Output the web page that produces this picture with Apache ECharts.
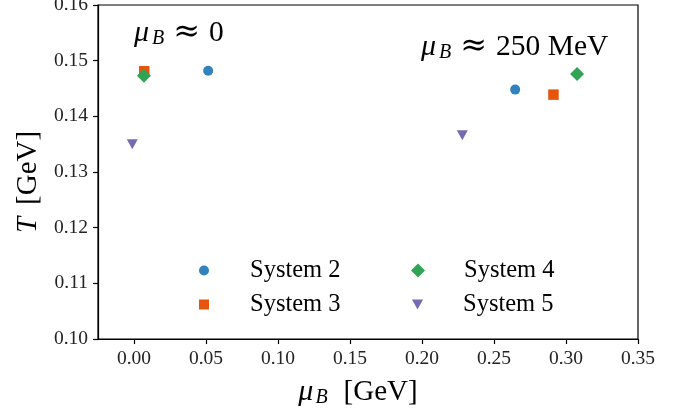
<!DOCTYPE html>
<html>
<head>
<meta charset="utf-8">
<script src="https://cdn.jsdelivr.net/npm/echarts@6/dist/echarts.min.js"></script>
<style>
  html, body { margin: 0; padding: 0; background: #fff; }
  #chart { width: 685px; height: 415px; }
</style>
</head>
<body>
<div id="chart"></div>
<script>
// Freeze-out points: [mu_B in GeV, T in GeV]
const system2 = [[0.0515, 0.1482], [0.2647, 0.1448]];
const system3 = [[0.0071, 0.1481], [0.2913, 0.1439]];
const system4 = [[0.0069, 0.1473], [0.3077, 0.1476]];
const system5 = [[-0.0012, 0.1350], [0.2280, 0.1366]];

const seriesNames = ['System 2', 'System 3', 'System 4', 'System 5'];
const xTicks = [0.00, 0.05, 0.10, 0.15, 0.20, 0.25, 0.30, 0.35];
const yTicks = [0.10, 0.11, 0.12, 0.13, 0.14, 0.15, 0.16];

const FONT = 'Liberation Serif';
const SYM_FONT = 'DejaVu Serif';
const colors = ['#3182bd', '#e6550d', '#31a354', '#756bb1'];
const triDown = 'path://M0,0L10,0L5,9Z';

const chart = echarts.init(document.getElementById('chart'), null, { renderer: 'canvas' });

function legendFor(name, icon, left, top, w, h, pad) {
  return {
    show: true,
    data: [{ name: name, icon: icon }],
    left: left,
    top: top,
    itemWidth: w,
    itemHeight: h,
    itemGap: 0,
    padding: 0,
    selectedMode: false,
    textStyle: {
      fontFamily: FONT,
      fontSize: 24.5,
      color: '#000',
      lineHeight: 24,
      padding: [0, 0, 0, pad]
    }
  };
}

// rich-text styles for the mu_B annotations
function annotationRich() {
  return {
    i: { fontFamily: FONT, fontStyle: 'italic', fontSize: 30, fill: '#000' },
    s: { fontFamily: FONT, fontStyle: 'italic', fontSize: 20, fill: '#000', padding: [12, 0, 0, 3] },
    r: { fontFamily: SYM_FONT, fontSize: 32, fill: '#000', padding: [0, 9, 0, 9] },
    n: { fontFamily: FONT, fontSize: 29.5, fill: '#000' }
  };
}

const option = {
  animation: false,
  backgroundColor: '#fff',
  grid: {
    left: 98, right: 47, top: 5, bottom: 76,
    outerBoundsMode: 'none',
    containLabel: false,
    show: true, borderColor: '#000', borderWidth: 1.2, backgroundColor: 'transparent'
  },
  xAxis: {
    type: 'value',
    min: -0.025,
    max: 0.35,
    name: '{i|μ}{s|B}{g|[GeV]}',
    nameLocation: 'middle',
    nameGap: 37,
    nameTextStyle: {
      fontFamily: FONT, fontSize: 29, color: '#000', verticalAlign: 'top',
      padding: [0, 20, 0, 0],
      rich: {
        i: { fontFamily: FONT, fontStyle: 'italic', fontSize: 30, color: '#000' },
        s: { fontFamily: FONT, fontStyle: 'italic', fontSize: 20, color: '#000', padding: [12, 0, 0, 2] },
        g: { fontFamily: FONT, fontSize: 29, color: '#000', padding: [0, 0, 0, 16] }
      }
    },
    splitLine: { show: false },
    axisLine: { show: true, onZero: false, lineStyle: { color: '#000', width: 1.2 } },
    axisTick: { show: true, inside: false, length: 5, customValues: xTicks, lineStyle: { color: '#000', width: 1.2 } },
    axisLabel: {
      customValues: xTicks,
      margin: 10,
      fontFamily: FONT, fontSize: 19.5, color: '#222',
      formatter: v => v.toFixed(2)
    }
  },
  yAxis: {
    type: 'value',
    min: 0.10,
    max: 0.16,
    interval: 0.01,
    name: '{i|T}{g|[GeV]}',
    nameLocation: 'middle',
    nameRotate: 90,
    nameGap: 52,
    nameTextStyle: {
      fontFamily: FONT, fontSize: 29, color: '#000',
      padding: [0, 20, 0, 0],
      rich: {
        i: { fontFamily: FONT, fontStyle: 'italic', fontSize: 29, color: '#000' },
        g: { fontFamily: FONT, fontSize: 29, color: '#000', padding: [0, 0, 0, 12] }
      }
    },
    splitLine: { show: false },
    axisLine: { show: true, onZero: false, lineStyle: { color: '#000', width: 1.2 } },
    axisTick: { show: true, inside: false, length: 5, lineStyle: { color: '#000', width: 1.2 } },
    axisLabel: {
      margin: 10,
      fontFamily: FONT, fontSize: 19.5, color: '#222',
      formatter: v => v.toFixed(2)
    }
  },
  legend: [
    legendFor(seriesNames[0], 'circle', 199, 258, 10, 10, 36),
    legendFor(seriesNames[1], 'rect', 199, 292, 10, 10, 36),
    legendFor(seriesNames[2], 'diamond', 411, 258, 14, 14, 34),
    legendFor(seriesNames[3], triDown, 412, 292, 11, 10, 35)
  ],
  graphic: [
    {
      type: 'text', left: 134, top: 17,
      style: { text: '{i|μ}{s|B}{r|≈}{n|0}', rich: annotationRich() }
    },
    {
      type: 'text', left: 421, top: 31,
      style: { text: '{i|μ}{s|B}{r|≈}{n|250 MeV}', rich: annotationRich() }
    }
  ],
  series: [
    { name: seriesNames[0], type: 'scatter', data: system2, symbol: 'circle', symbolSize: 10, itemStyle: { color: colors[0], opacity: 1 } },
    { name: seriesNames[1], type: 'scatter', data: system3, symbol: 'rect', symbolSize: 10.5, itemStyle: { color: colors[1], opacity: 1 } },
    { name: seriesNames[2], type: 'scatter', data: system4, symbol: 'diamond', symbolSize: 14, itemStyle: { color: colors[2], opacity: 1 } },
    { name: seriesNames[3], type: 'scatter', data: system5, symbol: triDown, symbolSize: [11, 10], itemStyle: { color: colors[3], opacity: 1 } }
  ]
};

chart.setOption(option);
</script>
</body>
</html>
